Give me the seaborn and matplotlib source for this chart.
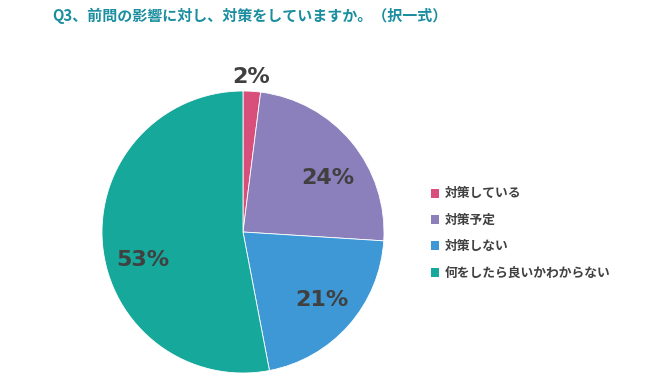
import matplotlib
matplotlib.use("Agg")
import matplotlib.pyplot as plt
import seaborn as sns
from matplotlib.patches import Patch

categories = ['対策している', '対策予定', '対策しない', '何をしたら良いかわからない']
values = [2, 24, 21, 53]
colors = ['#d94f7c', '#8b7fbc', '#3d98d5', '#15a89b']

sns.set_theme(style="white")
plt.rcParams['font.family'] = ['DejaVu Sans', 'Noto Sans CJK JP']

fig = plt.figure(figsize=(6.5, 3.81), dpi=100)
ax = fig.add_axes([102 / 650, 8 / 381, 282 / 650, 282 / 381])

wedges, texts, autotexts = ax.pie(
    values, colors=colors, startangle=90, counterclock=False,
    autopct=lambda p: '%d%%' % round(p), pctdistance=0.72,
    wedgeprops=dict(linewidth=0.6, edgecolor='white'),
    textprops=dict(color='#404040', fontsize=16, fontweight='bold'))
# nudge labels to where the original puts them
label_pos = [(0.06, 1.10), (0.60, 0.38), (0.56, -0.48), (-0.71, -0.20)]
for t, pos in zip(autotexts, label_pos):
    t.set_position(pos)
ax.set_xlim(-1, 1)
ax.set_ylim(-1, 1)
ax.set_aspect('equal')

fig.text(52 / 650, 1 - 16 / 381, 'Q3、前問の影響に対し、対策をしていますか。（択一式）',
         color='#1a8e9f', fontsize=10.8, fontweight='bold', va='center', ha='left',
         family=['Noto Sans CJK JP', 'DejaVu Sans'])

handles = [Patch(facecolor=c, edgecolor='none') for c in colors]
leg = fig.legend(handles, categories, loc='upper left',
                 bbox_to_anchor=(419 / 650, 1 - 176 / 381), frameon=False,
                 handlelength=0.7, handleheight=0.7, handletextpad=0.4,
                 labelspacing=1.05,
                 prop=dict(size=9.2, weight='bold', family=['Noto Sans CJK JP']))
for t in leg.get_texts():
    t.set_color('#404040')

fig.savefig('out.png', dpi=100)
